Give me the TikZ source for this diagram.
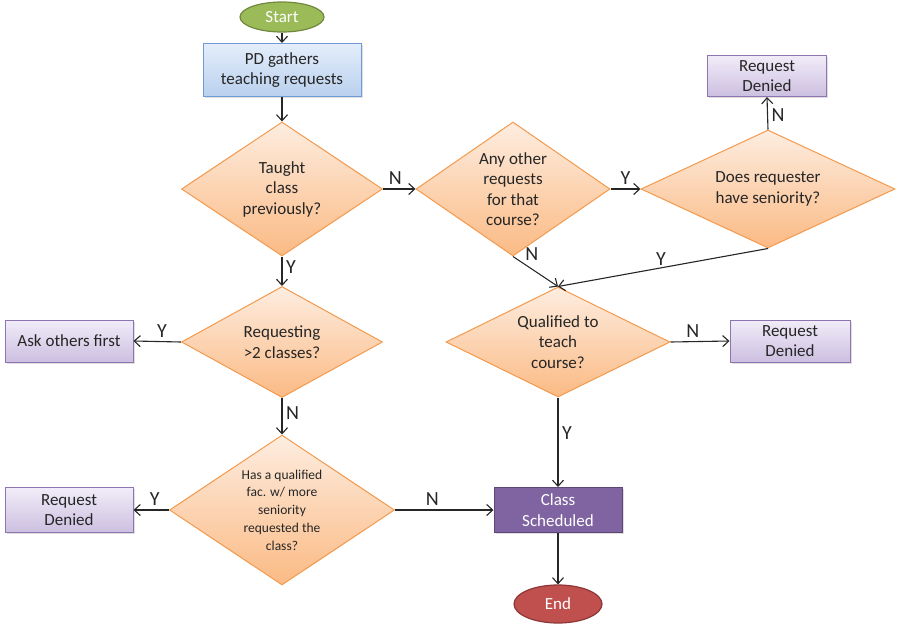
\documentclass[tikz,border=0pt]{standalone}
\usepackage{fontspec}
\setmainfont{Carlito}
\usetikzlibrary{shapes.geometric,arrows.meta,shadows}
\definecolor{Dark}{HTML}{262626}
\definecolor{StartFill}{HTML}{9BBB59}
\definecolor{StartLine}{HTML}{71893F}
\definecolor{StepTop}{HTML}{E4EEFA}
\definecolor{StepBottom}{HTML}{B9D0EE}
\definecolor{StepLine}{HTML}{6F9BD8}
\definecolor{AskTop}{HTML}{FDEDE0}
\definecolor{AskBottom}{HTML}{FBBA84}
\definecolor{AskLine}{HTML}{F39A4E}
\definecolor{DenyTop}{HTML}{F1ECF8}
\definecolor{DenyBottom}{HTML}{CCBFE0}
\definecolor{DenyLine}{HTML}{8E74B0}
\definecolor{DoneFill}{HTML}{8064A2}
\definecolor{DoneLine}{HTML}{5C4776}
\definecolor{EndFill}{HTML}{C0504D}
\definecolor{EndLine}{HTML}{8C3836}

\begin{document}
\begin{tikzpicture}[x=1pt,y=-1pt,
	every node/.style={text=Dark, font=\fontsize{17}{20.5}\selectfont},
	terminal/.style={ellipse, inner sep=0pt, line width=1.2pt, text=white},
	stepbox/.style={rectangle, draw=StepLine, line width=1pt, top color=StepTop, bottom color=StepBottom, inner sep=0pt, align=center,
		drop shadow={opacity=0.25, shadow xshift=1.5pt, shadow yshift=-1.5pt}},
	question/.style={diamond, draw=AskLine, line width=1pt, top color=AskTop, bottom color=AskBottom, inner sep=0pt, aspect=1.5, align=center},
	denied/.style={rectangle, draw=DenyLine, line width=1pt, top color=DenyTop, bottom color=DenyBottom, inner sep=0pt, align=center,
		drop shadow={opacity=0.25, shadow xshift=1.5pt, shadow yshift=-1.5pt}},
	flow/.style={draw=Dark, line width=1.1pt, -{Straight Barb[length=6pt,width=11pt]}},
	lbl/.style={font=\fontsize{20}{22}\selectfont, inner sep=3.5pt}
	]
	\fill[white] (0,0) rectangle (900,640);
	\useasboundingbox (0,0) rectangle (900,640);

	% start and first step
	\node[terminal, fill=StartFill, draw=StartLine, minimum width=84pt, minimum height=30pt] (start) at (282,17) {Start};
	\node[stepbox, minimum width=158pt, minimum height=53pt] (gather) at (282,70) {PD gathers\\teaching requests};

	% questions
	\node[question, minimum width=201pt, minimum height=134pt] (taught) at (282,189) {Taught\\class\\previously?};
	\node[question, minimum width=194pt, minimum height=134pt] (other) at (513,189) {Any other\\requests\\for that\\course?};
	\node[question, minimum width=254pt, minimum height=118pt] (senior) at (768,189) {Does requester\\have seniority?};
	\node[question, minimum width=201pt, minimum height=111pt] (many) at (282,342) {Requesting\\>2 classes?};
	\node[question, minimum width=224pt, minimum height=110pt] (qualified) at (558,342) {Qualified to\\teach\\course?};
	\node[question, minimum width=225pt, minimum height=150pt, font=\fontsize{13.5}{17.8}\selectfont] (facul) at (282,510) {Has a qualified\\fac. w/ more\\seniority\\requested the\\class?};

	% outcomes
	\node[denied, minimum width=119pt, minimum height=41pt] (denyTop) at (767,76) {Request\\Denied};
	\node[denied, minimum width=128pt, minimum height=42pt] (askOthers) at (69,341) {Ask others first};
	\node[denied, minimum width=120pt, minimum height=42pt] (denyRight) at (790,341) {Request\\Denied};
	\node[denied, minimum width=128pt, minimum height=45pt] (denyLeft) at (69,510) {Request\\Denied};
	\node[stepbox, fill=DoneFill, draw=DoneLine, top color=DoneFill, bottom color=DoneFill, text=white, minimum width=128pt, minimum height=45pt] (scheduled) at (558,510) {Class\\Scheduled};
	\node[terminal, fill=EndFill, draw=EndLine, minimum width=88pt, minimum height=38pt] (end) at (558,604) {End};

	% connectors
	\draw[flow] (start) -- (gather);
	\draw[flow] (gather) -- (taught.north);
	\draw[flow] (taught.east) -- node[lbl, above, pos=0.38] {N} (other.west);
	\draw[flow] (taught.south) -- node[lbl, right, pos=0.35] {Y} (many.north);
	\draw[flow] (other.east) -- node[lbl, above, pos=0.5] {Y} (senior.west);
	\draw[flow] (senior.north) -- node[lbl, right, pos=0.45] {N} (denyTop.south);
	\draw[flow] (other.south) -- node[lbl, above right, pos=0.22, inner sep=2pt] {N} (qualified.north);
	\draw[flow] (senior.south) -- node[lbl, above, pos=0.51, inner sep=2pt] {Y} (qualified.north);
	\draw[flow] (many.west) -- node[lbl, above, pos=0.4] {Y} (askOthers.east);
	\draw[flow] (many.south) -- node[lbl, right, pos=0.4] {N} (facul.north);
	\draw[flow] (qualified.east) -- node[lbl, above, pos=0.38] {N} (denyRight.west);
	\draw[flow] (qualified.south) -- node[lbl, right, pos=0.4] {Y} (scheduled.north);
	\draw[flow] (facul.west) -- node[lbl, above, pos=0.4] {Y} (denyLeft.east);
	\draw[flow] (facul.east) -- node[lbl, above, pos=0.38] {N} (scheduled.west);
	\draw[flow] (scheduled) -- (end);
\end{tikzpicture}
\end{document}
